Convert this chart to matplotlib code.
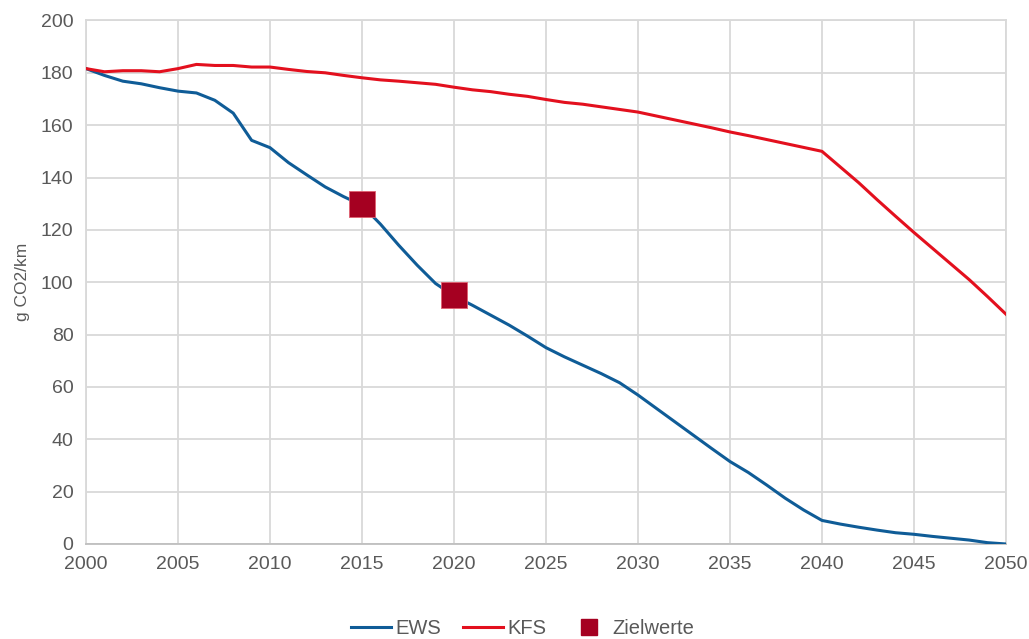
import matplotlib
matplotlib.use('Agg')
import matplotlib.pyplot as plt
from matplotlib.lines import Line2D

plt.rcParams['font.family'] = ['Liberation Sans', 'DejaVu Sans']

years = list(range(2000, 2051))

ews = [181.6, 179.0, 176.8, 175.8, 174.3, 173.0, 172.3, 169.5, 164.6, 154.2,
       151.4, 145.7, 141.0, 136.4, 132.7, 129.4, 122.2, 114.1, 106.5, 99.5,
       94.8, 91.2, 87.4, 83.6, 79.4, 75.0, 71.5, 68.3, 65.1, 61.6,
       56.9, 51.8, 46.7, 41.6, 36.5, 31.5, 27.3, 22.5, 17.5, 13.0,
       9.0, 7.6, 6.4, 5.3, 4.3, 3.7, 2.9, 2.2, 1.5, 0.5,
       0.0]

kfs = [181.6, 180.4, 180.8, 180.8, 180.4, 181.6, 183.2, 182.8, 182.8, 182.2,
       182.2, 181.3, 180.5, 180.0, 179.0, 178.1, 177.3, 176.8, 176.2, 175.6,
       174.5, 173.5, 172.8, 171.8, 171.0, 169.8, 168.7, 168.0, 167.0, 166.0,
       165.0, 163.5, 162.0, 160.5, 159.0, 157.4, 156.0, 154.5, 153.0, 151.5,
       150.0, 144.0, 138.0, 131.5, 125.2, 119.0, 113.0, 107.0, 101.0, 94.5,
       87.8]

ziel_years = [2015, 2020]
ziel_values = [130, 95]

blue = '#0f5c97'
red = '#e3101e'
darkred = '#a50021'
grey_text = '#595959'
grid_c = '#d9d9d9'

fig = plt.figure(figsize=(10.29, 6.39), dpi=100)
ax = fig.add_axes([0.0836, 0.1487, 0.894, 0.8193])

ax.plot(years, ews, color=blue, linewidth=2.2, label='EWS', zorder=3)
ax.plot(years, kfs, color=red, linewidth=2.2, label='KFS', zorder=3)
ax.scatter(ziel_years, ziel_values, marker='s', s=330, color=darkred, zorder=4,
           edgecolors='#e06070', linewidths=0.6)

ax.set_xlim(2000, 2050)
ax.set_ylim(0, 200)
ax.set_xticks(range(2000, 2051, 5))
ax.set_yticks(range(0, 201, 20))
ax.grid(True, color=grid_c, linewidth=1.3)
ax.set_axisbelow(True)
for side in ['top', 'right', 'left']:
    ax.spines[side].set_color(grid_c)
    ax.spines[side].set_linewidth(1.3)
ax.spines['bottom'].set_color('#bfbfbf')
ax.spines['bottom'].set_linewidth(1.3)
ax.tick_params(length=0, labelsize=14, colors=grey_text, pad=9)
ax.set_ylabel('g CO2/km', fontsize=12.5, color=grey_text, labelpad=8)

handles = [Line2D([0], [0], color=blue, linewidth=2.2),
           Line2D([0], [0], color=red, linewidth=2.2),
           Line2D([0], [0], marker='s', color='none', markerfacecolor=darkred,
                  markeredgecolor=darkred, markersize=11)]
leg = fig.legend(handles, ['EWS', 'KFS', 'Zielwerte'], loc='center',
                 bbox_to_anchor=(0.508, 0.017), ncol=3, frameon=False,
                 fontsize=14.5, handlelength=2.0, handletextpad=0.2,
                 columnspacing=1.1)
for t in leg.get_texts():
    t.set_color(grey_text)

fig.savefig('out.png', dpi=100)
